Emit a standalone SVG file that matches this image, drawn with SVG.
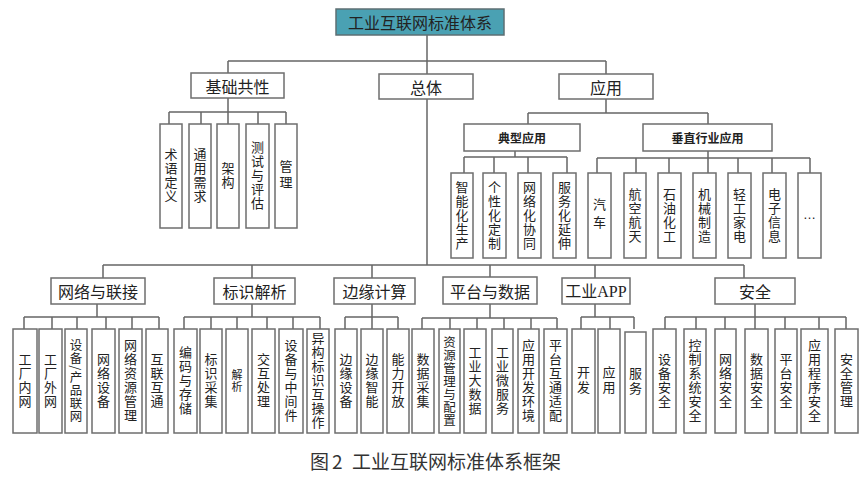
<svg xmlns="http://www.w3.org/2000/svg" width="864" height="479" viewBox="0 0 864 479">
<style>
.box{fill:#fff;stroke:#6e6e6e;stroke-width:1.5}
.top{fill:#4aa1b3;stroke:#5d6f73;stroke-width:1.5}
.conn path{stroke:#666;stroke-width:1.5;fill:none}
text{font-family:"Noto Sans CJK SC",sans-serif;fill:#222;text-anchor:middle;dominant-baseline:central}
.h16{font-size:16px}
.h12{font-size:12px;font-weight:bold}
.v{writing-mode:vertical-rl;font-size:13px;letter-spacing:1px}
.v7{writing-mode:vertical-rl;font-size:12.5px;letter-spacing:0.5px}
.cap{font-size:19px;text-anchor:start;fill:#333}
</style>
<rect width="864" height="479" fill="#fff"/>
<g class="conn" id="connectors">
<path d="M427 35V265"/>
<path d="M228 61H606M228 61V73M606 61V74"/>
<path d="M228 98V112M169 112H286M169 112V124M201 112V124M228 112V124M258 112V124M286 112V124"/>
<path d="M606 99V113M528 113H708M528 113V124M708 113V124"/>
<path d="M515 151V157M464 157H567M464 157V173M494 157V173M528 157V173M567 157V173"/>
<path d="M708 151V158M597 158H810M597 158V173M636 158V173M669 158V173M708 158V173M738 158V173M772 158V173M810 158V173"/>
<path d="M103 265H744M103 265V278M252 265V278M372 265V278M490 265V277M595 265V278M744 265V278"/>
<path d="M97 304V317M24 317H159M24 317V329M52 317V329M77 317V329M106 317V329M132 317V329M159 317V329"/>
<path d="M252 304V317M184 317H320M184 317V329M211 317V329M237 317V329M267 317V329M293 317V329M320 317V329"/>
<path d="M372 304V317M345 317H398M345 317V329M372 317V329M398 317V329"/>
<path d="M490 304V318M422 318H557M422 318V329M450 318V329M477 318V329M504 318V329M531 318V329M557 318V329"/>
<path d="M595 304V317M581 317H634M581 317V329M610 317V329M634 317V329"/>
<path d="M755 304V317M665 317H846M665 317V329M696 317V329M725 317V329M755 317V329M785 317V329M819 317V329M846 317V329"/>
</g>
<g id="root"><rect class="top" x="336" y="9" width="168" height="26"/><text class="h16" x="420" y="22">工业互联网标准体系</text></g>
<g id="jichu"><rect class="box" x="191" y="73" width="93" height="25"/><text class="h16" x="237.5" y="85.5">基础共性</text></g>
<g id="zongti"><rect class="box" x="379" y="74" width="94" height="25"/><text class="h16" x="426" y="86.5">总体</text></g>
<g id="yingyong"><rect class="box" x="559" y="74" width="94" height="25"/><text class="h16" x="606" y="86.5">应用</text></g>
<g id="jc1"><rect class="box" x="160" y="124" width="22" height="104"/><text class="v" x="171" y="176">术语定义</text></g>
<g id="jc2"><rect class="box" x="189" y="124" width="22" height="104"/><text class="v" x="200" y="176">通用需求</text></g>
<g id="jc3"><rect class="box" x="217" y="124" width="22" height="104"/><text class="v" x="228" y="176">架构</text></g>
<g id="jc4"><rect class="box" x="246" y="124" width="23" height="104"/><text class="v" x="257.5" y="176">测试与评估</text></g>
<g id="jc5"><rect class="box" x="275" y="124" width="22" height="104"/><text class="v" x="286" y="176" style="letter-spacing:3px">管理</text></g>
<g id="dianxing"><rect class="box" x="464" y="124" width="116" height="27"/><text class="h12" x="522" y="137.5">典型应用</text></g>
<g id="chuizhi"><rect class="box" x="643" y="124" width="129" height="27"/><text class="h12" x="707.5" y="137.5">垂直行业应用</text></g>
<g id="dx1"><rect class="box" x="451" y="173" width="22" height="85"/><text class="v" x="462" y="215.5">智能化生产</text></g>
<g id="dx2"><rect class="box" x="483" y="173" width="23" height="85"/><text class="v" x="494.5" y="215.5">个性化定制</text></g>
<g id="dx3"><rect class="box" x="518" y="173" width="23" height="85"/><text class="v" x="529.5" y="215.5">网络化协同</text></g>
<g id="dx4"><rect class="box" x="553" y="173" width="23" height="85"/><text class="v" x="564.5" y="215.5">服务化延伸</text></g>
<g id="cz1"><rect class="box" x="588" y="173" width="23" height="85"/><text class="v" x="599.5" y="215.5" style="letter-spacing:5px">汽车</text></g>
<g id="cz2"><rect class="box" x="624" y="173" width="22" height="85"/><text class="v" x="635" y="215.5">航空航天</text></g>
<g id="cz3"><rect class="box" x="658" y="173" width="23" height="85"/><text class="v" x="669.5" y="215.5">石油化工</text></g>
<g id="cz4"><rect class="box" x="693" y="173" width="23" height="85"/><text class="v" x="704.5" y="215.5">机械制造</text></g>
<g id="cz5"><rect class="box" x="728" y="173" width="23" height="85"/><text class="v" x="739.5" y="215.5">轻工家电</text></g>
<g id="cz6"><rect class="box" x="763" y="173" width="23" height="85"/><text class="v" x="774.5" y="215.5">电子信息</text></g>
<g id="cz7"><rect class="box" x="798" y="173" width="23" height="85"/><text x="809.5" y="214" style="font-family:'Liberation Sans',sans-serif;font-size:13px">…</text></g>
<g id="wangluo"><rect class="box" x="51" y="278" width="94" height="26"/><text class="h16" x="98" y="291">网络与联接</text></g>
<g id="biaoshi"><rect class="box" x="214" y="278" width="81" height="26"/><text class="h16" x="254.5" y="291">标识解析</text></g>
<g id="bianyuan"><rect class="box" x="334" y="278" width="81" height="26"/><text class="h16" x="374.5" y="291">边缘计算</text></g>
<g id="pingtai"><rect class="box" x="443" y="277" width="94" height="27"/><text class="h16" x="490" y="290.5">平台与数据</text></g>
<g id="app"><rect class="box" x="562" y="278" width="68" height="26"/><text class="h16" x="596" y="291" style="font-family:'Liberation Serif','Noto Sans CJK SC',serif">工业APP</text></g>
<g id="anquan"><rect class="box" x="715" y="278" width="80" height="26"/><text class="h16" x="755" y="291">安全</text></g>
<g id="wl1"><rect class="box" x="13" y="329" width="24" height="104"/><text class="v" x="25" y="381">工厂内网</text></g>
<g id="wl2"><rect class="box" x="39" y="329" width="23" height="104"/><text class="v" x="50.5" y="381">工厂外网</text></g>
<g id="wl3"><rect class="box" x="65" y="329" width="22" height="104"/><text class="v7" x="76" y="381">设备/产品联网</text></g>
<g id="wl4"><rect class="box" x="92" y="329" width="23" height="104"/><text class="v" x="103.5" y="381">网络设备</text></g>
<g id="wl5"><rect class="box" x="119" y="329" width="23" height="104"/><text class="v" x="130.5" y="381">网络资源管理</text></g>
<g id="wl6"><rect class="box" x="146" y="329" width="22" height="104"/><text class="v" x="157" y="381">互联互通</text></g>
<g id="bs1"><rect class="box" x="174" y="329" width="23" height="104"/><text class="v" x="185.5" y="381">编码与存储</text></g>
<g id="bs2"><rect class="box" x="200" y="329" width="22" height="104"/><text class="v" x="211" y="381">标识采集</text></g>
<g id="bs3"><rect class="box" x="226" y="329" width="22" height="104"/><text class="v" x="237" y="381" style="font-size:11px">解析</text></g>
<g id="bs4"><rect class="box" x="252" y="329" width="23" height="104"/><text class="v" x="263.5" y="381">交互处理</text></g>
<g id="bs5"><rect class="box" x="279" y="329" width="24" height="104"/><text class="v" x="291" y="381">设备与中间件</text></g>
<g id="bs6"><rect class="box" x="307" y="329" width="22" height="104"/><text class="v" x="318" y="381">异构标识互操作</text></g>
<g id="by1"><rect class="box" x="335" y="329" width="22" height="104"/><text class="v" x="346" y="381">边缘设备</text></g>
<g id="by2"><rect class="box" x="361" y="329" width="22" height="104"/><text class="v" x="372" y="381">边缘智能</text></g>
<g id="by3"><rect class="box" x="387" y="329" width="22" height="104"/><text class="v" x="398" y="381">能力开放</text></g>
<g id="pt1"><rect class="box" x="412" y="329" width="22" height="104"/><text class="v" x="423" y="381">数据采集</text></g>
<g id="pt2"><rect class="box" x="439" y="329" width="21" height="104"/><text class="v7" x="449.5" y="381">资源管理与配置</text></g>
<g id="pt3"><rect class="box" x="464" y="329" width="22" height="104"/><text class="v" x="475" y="381">工业大数据</text></g>
<g id="pt4"><rect class="box" x="492" y="329" width="21" height="104"/><text class="v" x="502.5" y="381">工业微服务</text></g>
<g id="pt5"><rect class="box" x="518" y="329" width="21" height="104"/><text class="v" x="528.5" y="381">应用开发环境</text></g>
<g id="pt6"><rect class="box" x="544" y="329" width="23" height="104"/><text class="v" x="555.5" y="381">平台互通适配</text></g>
<g id="ap1"><rect class="box" x="572" y="329" width="23" height="104"/><text class="v" x="583.5" y="381" style="letter-spacing:2px">开发</text></g>
<g id="ap2"><rect class="box" x="598" y="329" width="22" height="104"/><text class="v" x="609" y="381" style="letter-spacing:2px">应用</text></g>
<g id="ap3"><rect class="box" x="625" y="332" width="21" height="101"/><text class="v" x="635.5" y="382" style="letter-spacing:2px">服务</text></g>
<g id="aq1"><rect class="box" x="653" y="329" width="23" height="104"/><text class="v" x="664.5" y="381">设备安全</text></g>
<g id="aq2"><rect class="box" x="684" y="329" width="22" height="104"/><text class="v" x="695" y="381">控制系统安全</text></g>
<g id="aq3"><rect class="box" x="715" y="329" width="21" height="104"/><text class="v" x="725.5" y="381">网络安全</text></g>
<g id="aq4"><rect class="box" x="745" y="329" width="23" height="104"/><text class="v" x="756.5" y="381">数据安全</text></g>
<g id="aq5"><rect class="box" x="775" y="329" width="22" height="104"/><text class="v" x="786" y="381">平台安全</text></g>
<g id="aq6"><rect class="box" x="801" y="329" width="27" height="104"/><text class="v" x="814.5" y="381">应用程序安全</text></g>
<g id="aq7"><rect class="box" x="835" y="329" width="23" height="104"/><text class="v" x="846.5" y="381">安全管理</text></g>
<text class="cap" x="310" y="460">图<tspan x="332">2</tspan><tspan x="352">工业互联网标准体系框架</tspan></text>
</svg>
